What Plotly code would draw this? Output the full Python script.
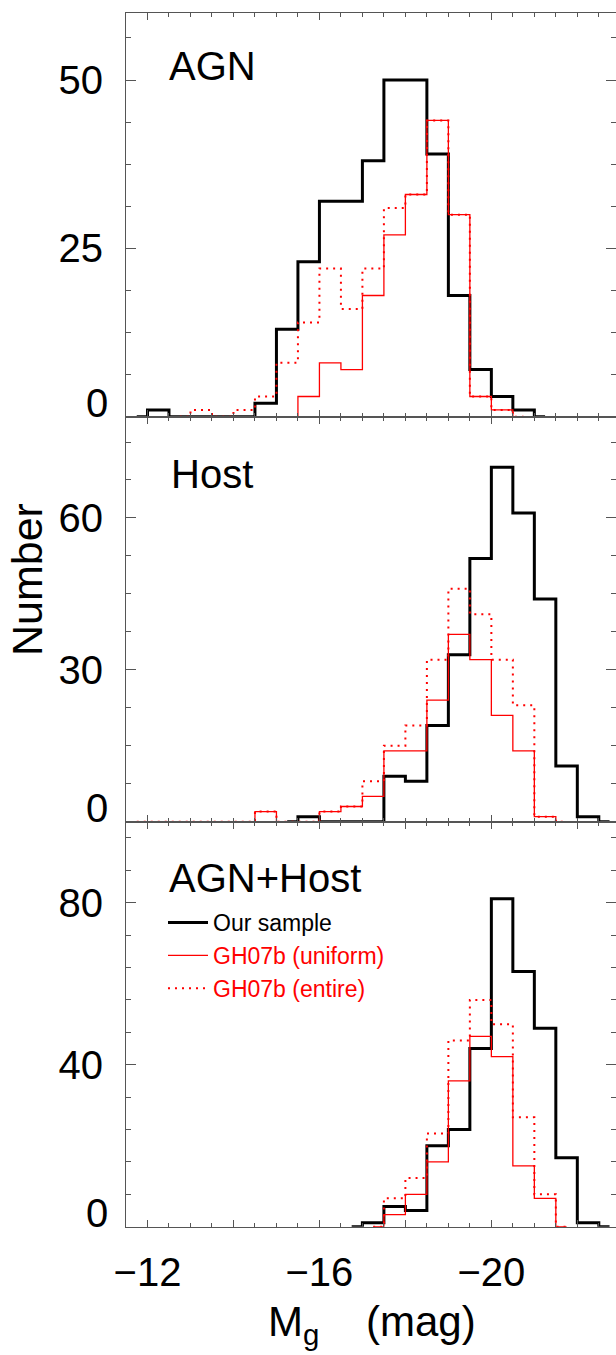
import plotly.graph_objects as go

# ---------------- data (bin centres, 0.5 mag bins) ----------------
# Panel 1: AGN
agn_ours_x = [-11.75, -12.25, -12.75, -13.25, -13.75, -14.25, -14.75, -15.25, -15.75, -16.25,
              -16.75, -17.25, -17.75, -18.25, -18.75, -19.25, -19.75, -20.25, -20.75, -21.25]
agn_ours_y = [0, 1, 0, 0, 0, 0, 2, 13, 23, 32, 32, 38, 50, 50, 39, 18, 7, 3, 1, 0]

agn_uni_x = [-15.25, -15.75, -16.25, -16.75, -17.25, -17.75, -18.25, -18.75, -19.25, -19.75, -20.25, -20.75]
agn_uni_y = [0, 3, 8, 7, 18, 27, 33, 44, 30, 3, 1, 0]

agn_ent_x = [-12.75, -13.25, -13.75, -14.25, -14.75, -15.25, -15.75, -16.25, -16.75, -17.25,
             -17.75, -18.25, -18.75, -19.25, -19.75, -20.25, -20.75]
agn_ent_y = [0, 1, 0, 1, 3, 8, 14, 22, 16, 22, 31, 33, 44, 30, 3, 1, 0]

# Panel 2: Host
host_ours_x = [-15.25, -15.75, -16.25, -16.75, -17.25, -17.75, -18.25, -18.75, -19.25, -19.75,
               -20.25, -20.75, -21.25, -21.75, -22.25, -22.75]
host_ours_y = [0, 1, 0, 0, 0, 9, 8, 19, 33, 52, 70, 61, 44, 11, 1, 0]

host_uni_x = [-11.75, -12.25, -12.75, -13.25, -13.75, -14.25, -14.75, -15.25, -15.75, -16.25, -16.75,
              -17.25, -17.75, -18.25, -18.75, -19.25, -19.75, -20.25, -20.75, -21.25, -21.75]
host_uni_y = [0, 0, 0, 0, 0, 0, 2, 0, 0, 2, 3, 5, 14, 14, 24, 37, 32, 21, 14, 1, 0]

host_ent_x = [-11.75, -12.25, -12.75, -13.25, -13.75, -14.25, -14.75, -15.25, -15.75, -16.25, -16.75,
              -17.25, -17.75, -18.25, -18.75, -19.25, -19.75, -20.25, -20.75, -21.25, -21.75]
host_ent_y = [0, 0, 0, 0, 0, 0, 2, 0, 0, 2, 3, 8, 15, 19, 32, 46, 41, 32, 23, 1, 0]

# Panel 3: AGN+Host
tot_ours_x = [-16.75, -17.25, -17.75, -18.25, -18.75, -19.25, -19.75, -20.25, -20.75, -21.25,
              -21.75, -22.25, -22.75]
tot_ours_y = [0, 1, 5, 4, 20, 24, 44, 81, 63, 49, 17, 1, 0]

tot_uni_x = [-17.25, -17.75, -18.25, -18.75, -19.25, -19.75, -20.25, -20.75, -21.25, -21.75]
tot_uni_y = [0, 3, 8, 16, 36, 47, 42, 15, 7, 0]

tot_ent_x = [-17.25, -17.75, -18.25, -18.75, -19.25, -19.75, -20.25, -20.75, -21.25, -21.75]
tot_ent_y = [0, 7, 12, 23, 46, 56, 50, 27, 8, 0]

panel_names = ["AGN", "Host", "AGN+Host"]
y_ranges = [[0, 60], [0, 80], [0, 100]]
y_major = [25, 30, 40]
y_minor = [6.25, 7.5, 8]
x_tickvals = [-12, -14, -16, -18, -20, -22]
x_ticktext = ["\u221212", "", "\u221216", "", "\u221220", ""]
series_names = ["Our sample", "GH07b (uniform)", "GH07b (entire)"]

# ---------------- figure ----------------
W, H = 616, 1355
FONT = "Liberation Sans"
AX = "#555555"
RED = "#ff0000"

def ypaper(px):
    return 1 - px / H

panels_px = [(12.7, 416.7), (416.7, 821.7), (821.7, 1226.7)]
data = [
    (agn_ours_x, agn_ours_y, agn_uni_x, agn_uni_y, agn_ent_x, agn_ent_y),
    (host_ours_x, host_ours_y, host_uni_x, host_uni_y, host_ent_x, host_ent_y),
    (tot_ours_x, tot_ours_y, tot_uni_x, tot_uni_y, tot_ent_x, tot_ent_y),
]

fig = go.Figure()
layout = dict(
    width=W, height=H, autosize=False,
    margin=dict(l=0, r=0, t=0, b=0, pad=0, autoexpand=False),
    paper_bgcolor="white", plot_bgcolor="white",
    font=dict(family=FONT, color="black"),
    showlegend=True,
)

for i, (ox, oy, ux, uy, ex, ey) in enumerate(data):
    n = "" if i == 0 else str(i + 1)
    xa, ya = "x" + n, "y" + n
    show = (i == 2)
    fig.add_trace(go.Scatter(x=ox, y=oy, xaxis=xa, yaxis=ya, mode="lines",
                             line=dict(color="black", width=3, shape="hvh"),
                             name=series_names[0], showlegend=show, legendrank=1))
    fig.add_trace(go.Scatter(x=ux, y=uy, xaxis=xa, yaxis=ya, mode="lines",
                             line=dict(color=RED, width=1.3, shape="hvh"),
                             name="<span style='color:#ff0000'>" + series_names[1] + "</span>",
                             showlegend=show, legendrank=2))
    fig.add_trace(go.Scatter(x=ex, y=ey, xaxis=xa, yaxis=ya, mode="lines",
                             line=dict(color=RED, width=2, shape="hvh", dash="2px,5px"),
                             name="<span style='color:#ff0000'>" + series_names[2] + "</span>",
                             showlegend=show, legendrank=3))

    top, bot = panels_px[i]
    layout["xaxis" + n] = dict(
        domain=[126 / W, 1.0], range=[-11.5, -22.9], anchor=ya, automargin=False,
        showline=True, linecolor=AX, linewidth=1.2, mirror="allticks",
        ticks="inside", ticklen=7, tickwidth=1.2, tickcolor=AX,
        tickvals=x_tickvals, ticktext=x_ticktext,
        showticklabels=(i == 2), tickfont=dict(size=40, family=FONT),
        ticklabelstandoff=10,
        minor=dict(ticks="inside", dtick=0.5, ticklen=4, tickwidth=1.2, tickcolor=AX, showgrid=False),
        showgrid=False, zeroline=False,
    )
    yt = list(range(0, y_ranges[i][1] + 1, y_major[i]))
    layout["yaxis" + n] = dict(
        domain=[ypaper(bot), ypaper(top)], range=y_ranges[i], anchor=xa, automargin=False,
        showline=True, linecolor=AX, linewidth=1.2, mirror="allticks",
        ticks="inside", ticklen=10, tickwidth=1.2, tickcolor=AX,
        tickvals=yt, ticktext=["" if v == 0 else str(v) for v in yt],
        tickfont=dict(size=40, family=FONT), ticklabelstandoff=14,
        minor=dict(ticks="inside", dtick=y_minor[i], ticklen=5, tickwidth=1.2, tickcolor=AX, showgrid=False),
        showgrid=False, zeroline=False,
    )

annotations = []
label_px = [(167, 66), (169, 474), (167, 878)]
for i, name in enumerate(panel_names):
    x, y = label_px[i]
    annotations.append(dict(text=name, x=x / W, y=ypaper(y), xref="paper", yref="paper",
                            xanchor="left", yanchor="middle", showarrow=False,
                            font=dict(size=40, family=FONT, color="black")))
    annotations.append(dict(text="0", x=110 / W, y=ypaper(panels_px[i][1] - 14), xref="paper", yref="paper",
                            xanchor="right", yanchor="middle", showarrow=False,
                            font=dict(size=40, family=FONT, color="black")))

annotations.append(dict(text="Number", x=27 / W, y=ypaper(580), xref="paper", yref="paper",
                        textangle=-90, xanchor="center", yanchor="middle", showarrow=False,
                        font=dict(size=43, family=FONT, color="black")))
annotations.append(dict(text="M<sub>g</sub>\u00a0\u00a0\u00a0\u00a0(mag)", x=372 / W, y=ypaper(1324),
                        xref="paper", yref="paper", xanchor="center", yanchor="middle",
                        showarrow=False, font=dict(size=42, family=FONT, color="black")))
layout["annotations"] = annotations

layout["legend"] = dict(
    x=163 / W, y=ypaper(901), xanchor="left", yanchor="top",
    bgcolor="rgba(0,0,0,0)", borderwidth=0,
    font=dict(size=23, family=FONT, color="black"),
    itemwidth=40, tracegroupgap=0, traceorder="normal",
)

fig.update_layout(**layout)
fig.write_html("out.html", config={"displayModeBar": False},
               post_script="document.body.style.margin='0';document.body.style.padding='0';")
